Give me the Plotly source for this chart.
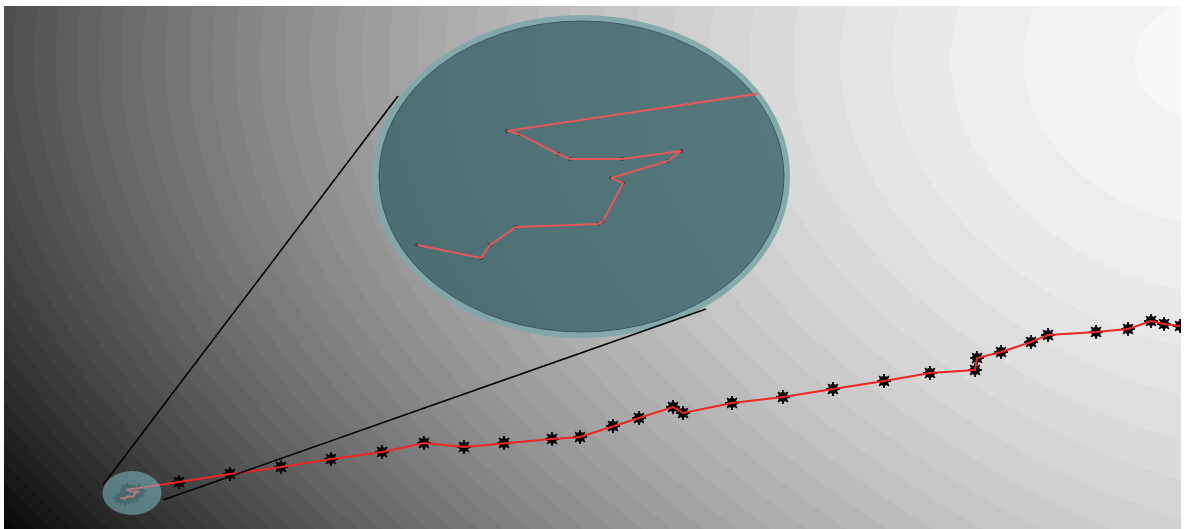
import base64
import struct
import zlib

import numpy as np
import plotly.graph_objects as go

# ---------------- data ----------------
# first 15 points form the small cluster shown magnified in the lens
step = [9.877, 10.265, 10.319, 10.477, 10.975, 11.006, 11.127, 11.054, 11.400, 11.479,
        11.121, 10.805, 10.732, 10.496, 10.423,
        14.87, 19.20, 23.53, 27.78, 32.12, 35.68, 39.08, 42.48, 46.56, 48.94,
        51.74, 53.95, 56.84, 57.69, 61.85, 66.18, 70.43, 74.77, 78.67, 82.50,
        82.67, 84.71, 87.26, 88.70, 92.78, 95.50, 97.45, 98.56, 99.92]
value = [5.948, 5.771, 5.948, 6.193, 6.235, 6.275, 6.795, 6.862, 7.096, 7.231,
         7.122, 7.122, 7.191, 7.465, 7.505,
         8.99, 10.52, 11.85, 13.38, 14.72, 16.44, 15.68, 16.44, 17.21, 17.59,
         19.69, 21.22, 23.33, 22.18, 24.09, 25.24, 26.77, 28.30, 29.83, 30.40,
         32.70, 33.84, 35.76, 37.09, 37.67, 38.24, 39.77, 39.20, 38.81]
x_range = [0, 100]
y_range = [0, 100]

# ---------------- layout geometry (pixels) ----------------
FIG_W, FIG_H = 1186, 529
PX0, PX1 = 4, 1181
PY0, PY1 = 6, 529
PW, PH = PX1 - PX0, PY1 - PY0


def px_to_x(px):
    return x_range[0] + (px - PX0) / PW * (x_range[1] - x_range[0])


def py_to_y(py):
    return y_range[0] + (PY1 - py) / PH * (y_range[1] - y_range[0])


def fx(px):
    return (px - PX0) / PW


def fy(py):
    return (PY1 - py) / PH


SMALL_C = (132, 493)
SMALL_R = (29.5, 22.0)
LENS_C = (581.5, 176.5)
LENS_R = (208.5, 161.5)
MAG = 14.0
LENS_DOM_X = (385, 757)
LENS_DOM_Y = (40, 322)


def lens_to_small_x(px):
    return SMALL_C[0] + (px - LENS_C[0]) / MAG


def lens_to_small_y(py):
    return SMALL_C[1] + (py - LENS_C[1]) / MAG


x2_range = [px_to_x(lens_to_small_x(LENS_DOM_X[0])), px_to_x(lens_to_small_x(LENS_DOM_X[1]))]
y2_range = [py_to_y(lens_to_small_y(LENS_DOM_Y[1])), py_to_y(lens_to_small_y(LENS_DOM_Y[0]))]

# ---------------- background gradient image ----------------
GC = (1195, 60)
GD = 1485.0
GP = 1.72
xs = PX0 + np.arange(PW) + 0.5
ys = PY0 + np.arange(PH) + 0.5
X, Y = np.meshgrid(xs, ys)
kx = 1.05 + 0.75 * np.clip((GC[0] - X) / 1180.0, 0, 1)
dist = np.sqrt((X - GC[0]) ** 2 + (kx * (Y - GC[1])) ** 2)
bright = 246 * (1 - np.clip(dist / GD, 0, 1) ** GP)
bright = np.floor(bright / 5.0) * 5.0 + 3
img = np.clip(bright, 0, 255).astype(np.uint8)


def png_gray(arr):
    h, w = arr.shape
    raw = b"".join(b"\x00" + arr[i].tobytes() for i in range(h))

    def chunk(tag, data):
        c = struct.pack(">I", len(data)) + tag + data
        return c + struct.pack(">I", zlib.crc32(tag + data) & 0xFFFFFFFF)

    return (b"\x89PNG\r\n\x1a\n"
            + chunk(b"IHDR", struct.pack(">IIBBBBB", w, h, 8, 0, 0, 0, 0))
            + chunk(b"IDAT", zlib.compress(raw, 9))
            + chunk(b"IEND", b""))


bg_uri = "data:image/png;base64," + base64.b64encode(png_gray(img)).decode()

# ---------------- figure ----------------
fig = go.Figure()

# main series: markers below, red line on top
fig.add_trace(go.Scatter(x=step, y=value, mode="markers", xaxis="x", yaxis="y",
                         marker=dict(symbol="circle", size=10, color="#050505"),
                         hoverinfo="skip"))
fig.add_trace(go.Scatter(x=step, y=value, mode="markers", xaxis="x", yaxis="y",
                         marker=dict(symbol="asterisk-open", size=11.5, color="#050505",
                                     line=dict(width=1.8, color="#050505")),
                         hoverinfo="skip"))
fig.add_trace(go.Scatter(x=step, y=value, mode="lines", xaxis="x", yaxis="y",
                         line=dict(color="#ee2626", width=2), hoverinfo="skip"))

# magnified view inside the lens
fig.add_trace(go.Scatter(x=step, y=value, mode="markers", xaxis="x2", yaxis="y2",
                         marker=dict(symbol="circle", size=4, color="#3a4243"),
                         hoverinfo="skip"))
fig.add_trace(go.Scatter(x=step, y=value, mode="lines", xaxis="x2", yaxis="y2",
                         line=dict(color="rgba(236,84,88,0.95)", width=2), hoverinfo="skip"))

shapes = []
# lens ring and body (paper, below traces)
shapes.append(dict(type="circle", xref="paper", yref="paper", layer="below",
                   x0=fx(LENS_C[0] - LENS_R[0] + 3), x1=fx(LENS_C[0] + LENS_R[0] - 3),
                   y0=fy(LENS_C[1] + LENS_R[1] - 3), y1=fy(LENS_C[1] - LENS_R[1] + 3),
                   line=dict(color="rgba(128,168,170,0.95)", width=6),
                   fillcolor="rgba(0,0,0,0)"))
shapes.append(dict(type="circle", xref="paper", yref="paper", layer="below",
                   x0=fx(LENS_C[0] - LENS_R[0] + 6), x1=fx(LENS_C[0] + LENS_R[0] - 6),
                   y0=fy(LENS_C[1] + LENS_R[1] - 6), y1=fy(LENS_C[1] - LENS_R[1] + 6),
                   line=dict(color="rgba(50,80,84,0.85)", width=1),
                   fillcolor="rgba(63,104,110,0.86)"))
# small lens over the cluster
shapes.append(dict(type="circle", xref="x", yref="y", layer="above",
                   x0=px_to_x(SMALL_C[0] - SMALL_R[0]), x1=px_to_x(SMALL_C[0] + SMALL_R[0]),
                   y0=py_to_y(SMALL_C[1] + SMALL_R[1]), y1=py_to_y(SMALL_C[1] - SMALL_R[1]),
                   line=dict(width=0), fillcolor="rgba(125,190,198,0.55)"))
# connector lines
for (a, b) in [((103, 485), (398, 96)), ((163, 500), (706, 309))]:
    shapes.append(dict(type="line", xref="paper", yref="paper", layer="above",
                       x0=fx(a[0]), y0=fy(a[1]), x1=fx(b[0]), y1=fy(b[1]),
                       line=dict(color="#000000", width=1.6)))

fig.update_layout(
    width=FIG_W, height=FIG_H,
    margin=dict(l=PX0, r=FIG_W - PX1, t=PY0, b=FIG_H - PY1, pad=0),
    paper_bgcolor="#ffffff",
    plot_bgcolor="rgba(0,0,0,0)",
    showlegend=False,
    hovermode=False,
    xaxis=dict(range=x_range, visible=False, fixedrange=True, domain=[0, 1]),
    yaxis=dict(range=y_range, visible=False, fixedrange=True, domain=[0, 1]),
    xaxis2=dict(range=x2_range, visible=False, fixedrange=True, anchor="y2",
                domain=[fx(LENS_DOM_X[0]), fx(LENS_DOM_X[1])]),
    yaxis2=dict(range=y2_range, visible=False, fixedrange=True, anchor="x2",
                domain=[fy(LENS_DOM_Y[1]), fy(LENS_DOM_Y[0])]),
    images=[dict(source=bg_uri, xref="paper", yref="paper", x=0, y=1,
                 sizex=1, sizey=1, xanchor="left", yanchor="top",
                 sizing="stretch", layer="below")],
    shapes=shapes,
)

fig.write_html(
    "out.html",
    config={"displayModeBar": False},
    post_script="document.body.style.margin='0px';"
                "document.documentElement.style.overflow='hidden';",
)
